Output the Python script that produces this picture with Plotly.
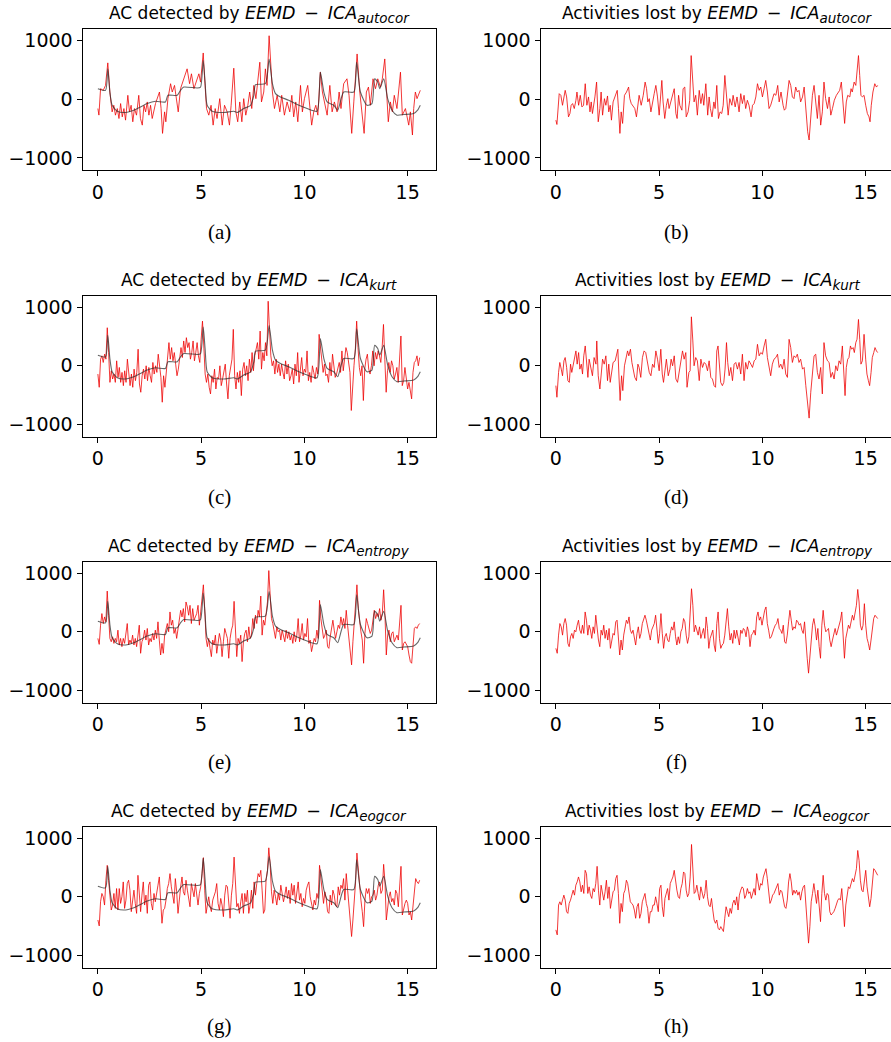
import numpy as np
import plotly.graph_objects as go

# ---------------- data (time in s, amplitude) ----------------
ta = [0,0.05,0.13,0.26,0.37,0.48,0.58,0.69,0.77,0.85,0.94,1.02,1.10,1.18,1.26,1.34,1.45,1.53,1.61,1.69,
      1.77,1.87,1.98,2.06,2.15,2.23,2.31,2.39,2.47,2.55,2.63,2.79,2.98,3.06,3.13,3.23,3.29,3.39,3.52,3.60,
      3.71,3.89,4.00,4.16,4.32,4.44,4.53,4.65,4.89,4.97,5.10,5.16,5.26,5.37,5.48,5.58,5.68,5.77,5.90,6.02,
      6.13,6.26,6.37,6.45,6.58,6.68,6.77,6.87,6.97,7.06,7.16,7.26,7.35,7.45,7.55,7.65,7.74,7.84,7.92,8.03,
      8.11,8.19,8.29,8.35,8.45,8.55,8.68,8.81,8.90,9.03,9.16,9.29,9.39,9.48,9.58,9.68,9.81,9.90,10.0,10.16,
      10.26,10.35,10.45,10.55,10.65,10.77,10.87,10.97,11.10,11.23,11.34,11.45,11.58,11.68,11.77,11.90,12.06,12.16,12.29,12.39,
      12.55,12.68,12.77,12.89,13.0,13.1,13.19,13.32,13.44,13.55,13.68,13.77,13.89,13.97,14.06,14.16,14.26,14.35,14.48,14.65,
      14.74,14.89,15.05,15.13,15.23,15.29,15.37,15.45,15.61]
va = [-158,-270,181,153,237,622,124,-215,-102,-271,-158,-328,-73,-300,-158,-356,68,-215,-102,-384,
      -158,-271,68,-328,-441,-102,-215,-45,-271,-102,-328,-73,124,-158,-582,-215,-384,11,266,124,
      237,-215,181,350,520,266,435,181,435,294,791,407,-158,-271,-102,-441,-158,-328,11,-441,
      -102,-215,-441,-102,531,-215,-384,-45,-384,11,-271,-102,124,-158,237,11,266,633,-45,124,
      520,237,1085,633,124,-158,68,-215,68,-271,-45,-215,68,-300,-45,-384,237,-215,11,237,
      -158,-441,-215,-102,-271,463,124,-45,-271,237,-215,-45,-215,124,-158,266,350,68,-582,-45,
      774,124,-158,-582,124,209,-102,350,181,350,209,350,689,124,-384,-45,-215,68,-158,463,
      -271,-158,-441,-215,-610,-158,124,11,153]

t_ref = [0,0.37,0.48,0.58,0.69,0.94,1.26,1.74,2.06,2.39,2.79,3.27,3.39,3.84,4.0,4.16,4.81,4.97,5.10,5.19,
         5.29,5.53,6.10,6.58,6.74,7.06,7.39,7.55,7.63,8.11,8.29,8.45,8.60,8.84,9.24,9.65,10.13,10.61,10.77,10.94,
         11.10,11.42,11.61,11.90,12.39,12.53,12.71,13.03,13.27,13.40,13.55,13.65,13.84,14.03,14.24,14.48,14.81,15.29,15.48,15.61]
v_ref = [181,153,520,124,-102,-203,-226,-186,-130,-73,-34,-45,68,68,153,209,192,209,661,294,
         -102,-203,-226,-203,-226,-158,-102,68,249,266,689,266,96,40,-17,-90,-158,-203,463,124,
         -45,-102,-186,124,124,633,124,-102,-73,350,294,181,350,11,-186,-271,-260,-243,-186,-102]

tb = [0,0.05,0.16,0.24,0.32,0.45,0.52,0.61,0.68,0.74,0.81,0.89,0.97,1.02,1.10,1.18,1.26,1.34,1.42,1.50,
      1.58,1.65,1.71,1.77,1.89,1.97,2.05,2.13,2.19,2.26,2.35,2.42,2.50,2.56,2.63,2.69,2.77,2.90,2.97,3.03,
      3.10,3.16,3.23,3.32,3.42,3.52,3.58,3.65,3.71,3.82,3.90,3.97,4.03,4.13,4.23,4.32,4.39,4.45,4.52,4.60,
      4.68,4.76,4.84,4.92,5.0,5.08,5.13,5.19,5.27,5.35,5.42,5.48,5.58,5.65,5.73,5.81,5.87,5.94,6.0,6.10,
      6.16,6.24,6.31,6.40,6.48,6.55,6.61,6.69,6.77,6.85,6.94,7.02,7.10,7.16,7.26,7.35,7.42,7.48,7.56,7.65,
      7.71,7.79,7.87,7.95,8.03,8.10,8.18,8.26,8.34,8.42,8.52,8.58,8.68,8.77,8.87,8.95,9.03,9.11,9.19,9.27,
      9.35,9.45,9.52,9.60,9.68,9.76,9.84,9.92,10.0,10.08,10.16,10.24,10.32,10.40,10.48,10.56,10.65,10.74,10.81,10.90,
      11.0,11.06,11.13,11.21,11.29,11.37,11.45,11.53,11.61,11.69,11.77,11.85,11.94,12.02,12.10,12.19,12.26,12.34,12.42,12.5,
      12.58,12.66,12.74,12.82,12.90,12.98,13.06,13.15,13.23,13.31,13.39,13.48,13.58,13.68,13.74,13.82,13.90,13.98,14.06,14.13,
      14.23,14.29,14.35,14.44,14.52,14.58,14.65,14.71,14.77,14.84,14.92,15.0,15.08,15.16,15.21,15.27,15.35,15.44,15.52,15.58]
vb = [-356,-430,96,68,-102,153,40,-300,-243,-102,-73,-158,-17,124,-102,68,-130,-102,266,-102,
      40,-215,-45,-243,40,294,-384,-158,124,-271,11,-102,57,-215,-102,-356,-45,68,153,-158,
      -582,-215,-412,68,124,209,11,-73,-102,-158,-300,-45,68,-102,68,294,181,-45,11,-215,
      -17,96,237,40,-271,124,322,-45,-328,-102,11,-158,-17,40,181,-243,-328,68,-102,-186,
      181,209,-300,-215,-17,746,407,-45,68,-271,153,-73,96,-102,266,-271,40,-158,-300,-45,
      -158,237,-328,-215,-243,-102,407,68,-271,11,-102,68,-130,40,-215,96,-73,68,-158,-17,
      -102,-300,-102,-73,40,266,153,209,40,181,322,124,-158,-102,11,96,68,237,-45,124,
      -102,-186,-158,40,322,237,40,11,209,124,153,-45,40,209,-158,-554,-695,-328,68,237,
      -45,-328,68,-441,-215,294,11,-158,40,-271,-158,-17,68,124,153,294,-158,-412,-45,68,
      40,181,124,294,237,463,746,407,68,40,68,-102,-243,-300,-384,-102,124,266,209,237]

vc = [-141,-367,113,170,57,198,113,650,226,-283,-85,-226,-141,-283,85,-198,-28,-283,-113,-339,
      -85,-283,113,-170,-339,-141,-367,-57,-254,-113,283,-311,-452,-170,-57,-226,0,-254,-28,-170,
      -283,57,-141,0,-113,198,-57,-198,-622,-170,-367,-57,226,396,113,311,85,226,28,-170,
      -57,141,311,141,424,226,480,311,396,113,226,424,85,226,396,170,57,452,763,339,
      -141,-283,-141,-367,-480,-170,-283,-57,-396,-198,-226,0,-339,-226,-113,28,-311,-565,-170,-28,
      113,622,-170,-396,-113,-283,-85,-509,-57,57,-170,0,-254,113,-113,226,-85,170,311,396,
      113,593,-57,226,85,396,170,1102,622,170,0,85,-141,113,-113,28,-170,28,-113,-226,
      85,-141,28,-254,-170,-57,-311,28,-170,226,-283,-28,141,-170,-57,-113,254,-254,-113,-283,
      0,-113,-226,-28,-141,537,283,113,-113,28,-170,-141,-283,57,-170,198,0,-198,-141,-28,
      57,-113,254,-85,113,311,226,57,-113,-763,-283,0,283,763,311,-28,-170,0,-593,-57,
      113,198,-57,-141,0,254,0,226,113,254,170,57,311,706,113,-452,-85,57,-113,85,
      0,-226,-141,-28,-283,113,509,-339,-254,-28,-254,-396,-283,-452,-565,-113,57,85,170,0,141]

td = [0,0.05,0.13,0.19,0.26,0.32,0.39,0.45,0.52,0.58,0.65,0.71,0.77,0.84,0.90,0.97,1.03,1.10,1.16,1.23,
      1.29,1.35,1.42,1.48,1.55,1.61,1.69,1.77,1.85,1.94,1.98,2.05,2.13,2.19,2.26,2.34,2.42,2.50,2.56,2.63,
      2.71,2.77,2.87,2.94,3.0,3.06,3.11,3.18,3.24,3.32,3.39,3.47,3.53,3.61,3.68,3.74,3.82,3.90,3.97,4.03,
      4.11,4.19,4.27,4.35,4.44,4.52,4.60,4.68,4.76,4.84,4.92,5.0,5.08,5.15,5.21,5.29,5.35,5.44,5.52,5.58,
      5.65,5.73,5.81,5.89,5.97,6.05,6.13,6.21,6.29,6.35,6.44,6.50,6.56,6.63,6.69,6.77,6.85,6.94,7.02,7.10,
      7.18,7.26,7.34,7.42,7.50,7.58,7.66,7.73,7.79,7.85,7.92,7.98,8.06,8.13,8.19,8.26,8.32,8.39,8.47,8.55,
      8.63,8.71,8.79,8.87,8.95,9.03,9.11,9.19,9.27,9.35,9.44,9.52,9.60,9.68,9.76,9.84,9.92,10.0,10.08,10.16,
      10.24,10.32,10.40,10.48,10.56,10.65,10.73,10.81,10.89,10.97,11.05,11.13,11.21,11.29,11.37,11.45,11.53,11.61,11.69,11.77,
      11.85,11.94,12.02,12.10,12.18,12.26,12.34,12.42,12.50,12.58,12.66,12.74,12.82,12.90,12.98,13.06,13.15,13.23,13.31,13.39,
      13.47,13.55,13.63,13.71,13.79,13.87,13.95,14.0,14.06,14.13,14.19,14.26,14.32,14.39,14.45,14.52,14.58,14.65,14.71,14.77,
      14.84,14.92,15.0,15.06,15.13,15.19,15.26,15.32,15.39,15.45,15.52,15.58]
vd = [-339,-537,-113,57,-57,-170,85,141,-28,-254,-283,28,-113,0,85,254,28,226,-57,28,
      -141,170,339,0,-198,113,-28,-170,141,28,424,-170,-396,-113,113,28,170,-254,28,-283,
      -113,57,85,170,283,-226,-593,-170,-424,0,113,254,170,283,57,-85,-198,-254,28,-28,
      -198,141,254,226,0,-113,-170,28,-28,254,113,-85,283,-141,-283,0,113,-170,-57,113,
      0,170,-226,-283,-85,28,254,113,226,-367,-113,-85,836,424,0,141,85,-254,113,-28,
      57,28,-85,85,-198,-226,-339,-367,254,339,0,-283,-339,-283,-57,396,57,-170,-28,-254,
      28,57,-57,57,-141,198,-254,57,-57,85,28,-28,85,113,367,170,226,198,339,452,
      141,-57,-170,28,113,141,198,-28,28,-57,113,-141,-198,452,311,57,170,141,198,57,
      113,-57,-28,-339,-622,-893,-452,-113,170,198,-113,-226,-28,-480,396,170,85,57,-198,-113,
      -226,0,-85,85,28,339,-339,-509,-28,113,141,339,283,311,226,396,452,791,452,28,
      85,537,113,-141,-254,-339,-113,141,226,311,254,226]

ve = [-113,-215,113,311,141,254,170,695,283,-113,-170,-85,-198,-113,-170,28,-226,-113,-254,-113,
      -198,28,141,-226,-141,-198,-57,-226,-113,-254,-28,113,-367,-170,-113,28,-141,57,-226,-113,
      -170,-28,-141,28,-113,170,-141,-396,-198,-367,-57,57,141,0,339,113,198,-28,57,-113,
      28,198,367,254,396,170,509,424,283,452,141,396,198,254,311,452,113,339,565,802,
      396,-113,-254,-113,-283,-424,-141,-226,-57,-367,-198,-28,-141,-424,-170,57,-28,-113,-452,-113,
      28,113,520,-57,-424,-113,-198,-57,-509,-170,-28,28,-170,85,-113,-57,226,57,283,141,
      367,254,610,-57,198,113,339,509,1045,622,226,141,28,-113,85,0,28,-141,28,-85,
      -170,28,-113,0,-141,-57,-198,0,-170,-57,226,-170,-57,141,-141,-28,-85,226,-198,-141,
      -339,-226,-113,-170,28,-113,537,226,28,-113,-57,28,-254,-283,-85,85,198,28,-113,0,
      113,57,254,113,226,57,367,113,-113,-283,-565,-170,170,396,802,396,170,0,-141,-537,
      -28,226,141,57,-28,28,170,367,226,311,254,396,198,311,718,283,-396,-57,28,-170,
      -28,0,-170,-113,-57,-141,113,452,-311,-198,-170,-226,-254,-396,-509,-537,-170,57,85,57,113,141]

vf = [-283,-367,-57,141,85,-57,141,226,113,-198,-254,-85,-28,-113,28,0,113,198,28,-28,
      113,-28,339,198,-57,113,28,-113,85,-28,283,57,-141,-254,28,-57,113,-113,28,-141,
      57,-283,-113,-28,-57,170,198,-85,-396,-141,-311,-57,113,198,141,254,28,-28,28,-141,
      -226,-28,85,-113,-28,141,226,283,198,85,-28,-141,28,85,141,283,85,-198,-28,311,
      -28,-283,-85,-28,-141,-170,-28,85,28,170,-85,-226,-85,-198,0,57,226,170,-57,-198,
      -85,283,735,452,0,113,28,-57,85,-113,-28,57,-113,254,57,-283,-113,-28,28,-226,
      -339,141,339,-113,-283,-226,-198,-57,198,396,85,-141,-28,-198,28,-113,28,-85,-226,28,
      -28,57,28,-85,85,0,-254,-57,-28,28,-57,254,339,198,254,113,283,367,424,141,
      28,-113,-85,0,57,113,141,226,57,28,-28,113,-170,-198,-57,170,367,198,28,85,
      57,198,170,113,141,28,-28,170,-226,-452,-706,-452,-113,113,226,85,-141,57,-254,-452,
      113,367,113,0,28,57,-141,-254,-141,-28,57,-57,28,141,198,339,-170,-452,-113,28,
      113,57,198,283,198,311,452,723,509,113,28,113,480,113,-113,-198,-311,-141,113,226,283,254,226]

vg = [-396,-497,-85,57,0,-141,283,537,283,-57,-226,-141,57,-198,141,-226,141,-113,0,254,
      -198,-57,226,283,113,-254,-85,113,-113,-283,367,-57,-254,28,254,-141,28,-283,198,254,
      -113,-226,57,-85,113,198,339,0,-452,-226,-198,-57,141,226,396,170,0,-113,311,85,
      -283,28,170,339,85,28,283,113,-57,-170,226,113,0,226,28,-141,57,170,396,667,
      113,-283,-141,0,-170,-254,-57,0,85,226,-113,-226,-28,-141,-339,28,198,170,-170,-367,
      28,226,678,170,-170,-113,-283,-85,57,-283,57,-85,113,-283,-141,113,-198,254,28,226,
      396,339,452,113,-283,-226,311,452,836,565,85,-113,113,0,-141,57,-57,198,28,-85,
      28,170,-28,113,-113,226,28,198,-113,113,254,-57,57,-170,-28,-113,113,198,254,0,
      -113,-226,-57,-141,57,-28,537,339,57,-113,85,-28,-254,-283,28,-141,113,28,-141,-170,
      170,28,198,141,311,-57,396,113,-113,-339,-678,-396,-85,254,746,452,141,-57,-254,-509,
      -57,141,57,141,-113,0,28,113,-57,28,198,254,57,113,554,254,-396,-141,0,85,
      -85,-28,-141,113,57,-170,141,520,-311,-198,-113,-57,-113,-311,-254,-396,-113,113,311,254,226,283]

vh = [-565,-650,-141,-85,-141,-28,28,-57,-254,-283,-113,-57,57,113,28,198,254,339,254,85,
      198,57,452,396,57,170,28,-28,141,85,226,520,113,-141,198,28,-57,85,283,-28,
      170,-198,-28,85,113,311,367,57,-452,-113,-254,57,113,283,226,85,-85,-113,-141,-226,
      -367,-170,-113,-367,-283,-85,-28,57,-113,-198,-452,-254,-254,-141,-141,0,-113,-254,141,198,
      -170,-339,-28,85,141,-57,226,283,339,452,254,113,0,-28,141,226,424,396,113,0,
      57,339,893,565,57,85,198,57,-57,170,85,-28,57,283,0,-141,-170,-28,-226,-396,
      -452,-396,-537,-565,-509,-565,-593,-367,-170,-254,-339,-198,-283,-113,-57,-141,0,-226,28,113,
      170,141,-28,28,141,57,85,-28,57,141,28,396,254,113,226,198,339,396,480,311,
      141,-113,-57,28,57,113,141,226,28,113,85,-28,-170,-198,-57,254,396,254,28,113,
      57,113,28,85,-57,85,170,198,-170,-396,-791,-509,-85,57,226,57,-113,113,-226,-424,
      57,367,57,-57,57,28,-254,-311,-283,-254,-198,-113,-57,-28,-57,141,-226,-509,-141,57,
      170,141,226,311,254,367,480,791,622,283,113,85,311,452,170,-57,-170,-28,283,480,452,396,367]

T_END = 15.58
tc = np.linspace(0, T_END, len(vc))
te = np.linspace(0, T_END, len(ve))
tf = np.linspace(0, T_END, len(vf))
tg = np.linspace(0, T_END, len(vg))
th = np.linspace(0, T_END, len(vh))

methods = ["autocor", "kurt", "entropy", "eogcor"]
captions = ["(a)", "(b)", "(c)", "(d)", "(e)", "(f)", "(g)", "(h)"]
detected = [(ta, va), (tc, vc), (te, ve), (tg, vg)]
lost = [(tb, vb), (td, vd), (tf, vf), (th, vh)]

# ---------------- layout geometry ----------------
W, H = 891, 1042
row_top = [29.0, 295.5, 561.5, 826.5]
row_bot = [170.0, 436.5, 702.5, 967.5]
col_l = [82.5, 540.5]
col_r = [436.0, 894.0]
XR_L = [-0.745, 16.37]
YR = [-1207, 1200]
pxu = (col_r[0] - col_l[0]) / (XR_L[1] - XR_L[0])

RED = "rgba(238,0,0,0.78)"
GRAY = "rgba(45,45,45,0.72)"
FONT = "DejaVu Sans"
ENSP = "\u2002"


def math_part(method):
    return ('<span style="font-size:17.5px"><i>EEMD</i>' + ENSP + "−" + ENSP +
            '<i>ICA</i></span><sub><span style="font-size:13.5px"><i>' + method +
            "</i></span></sub>")


fig = go.Figure()
layout = dict(width=W, height=H, margin=dict(l=0, r=0, t=0, b=0),
              paper_bgcolor="white", plot_bgcolor="white", showlegend=False)
annotations = []

for r in range(4):
    for c in range(2):
        i = r * 2 + c
        ax = i + 1
        xn = "x" if ax == 1 else f"x{ax}"
        yn = "y" if ax == 1 else f"y{ax}"
        if c == 0:
            tt, vv = detected[r]
            fig.add_trace(go.Scatter(x=tt, y=vv, mode="lines", xaxis=xn, yaxis=yn,
                                     line=dict(color=RED, width=1.0), hoverinfo="skip"))
            fig.add_trace(go.Scatter(x=t_ref, y=v_ref, mode="lines", xaxis=xn, yaxis=yn,
                                     line=dict(color=GRAY, width=1.1, shape="spline", smoothing=0.6),
                                     hoverinfo="skip"))
            xr = XR_L
            dom = [col_l[0] / W, col_r[0] / W]
            title = "AC detected by " + math_part(methods[r])
        else:
            tt, vv = lost[r]
            fig.add_trace(go.Scatter(x=tt, y=vv, mode="lines", xaxis=xn, yaxis=yn,
                                     line=dict(color=RED, width=1.0), hoverinfo="skip"))
            x0 = XR_L[0]
            xr = [x0, x0 + (W - col_l[1]) / pxu]
            dom = [col_l[1] / W, 1.0]
            title = "Activities lost by " + math_part(methods[r])

        ydom = [1 - row_bot[r] / H, 1 - row_top[r] / H]
        xkey = "xaxis" if ax == 1 else f"xaxis{ax}"
        ykey = "yaxis" if ax == 1 else f"yaxis{ax}"
        layout[xkey] = dict(domain=dom, range=xr, anchor=yn, tickvals=[0, 5, 10, 15],
                            ticks="outside", ticklen=5, tickwidth=1, tickcolor="black",
                            showline=True, linecolor="black", linewidth=1, mirror=True,
                            showgrid=False, zeroline=False,
                            tickfont=dict(family=FONT, size=19, color="black"))
        layout[ykey] = dict(domain=ydom, range=YR, anchor=xn, tickvals=[-1000, 0, 1000],
                            ticks="outside", ticklen=5, tickwidth=1, tickcolor="black",
                            showline=True, linecolor="black", linewidth=1, mirror=(c == 0),
                            showgrid=False, zeroline=False,
                            tickfont=dict(family=FONT, size=19, color="black"))
        xc = (col_l[c] + col_r[c]) / 2
        annotations.append(dict(text=title, x=xc / W, y=1 - (row_top[r] - 14.5) / H,
                                xref="paper", yref="paper", xanchor="center", yanchor="middle",
                                showarrow=False, font=dict(family=FONT, size=17, color="black")))
        cap_x = [219, 676][c]
        cap_y = [232, 497, 762, 1026][r]
        annotations.append(dict(text=captions[i], x=cap_x / W, y=1 - cap_y / H,
                                xref="paper", yref="paper", xanchor="center", yanchor="middle",
                                showarrow=False, font=dict(family="Liberation Serif", size=21, color="black")))

layout["annotations"] = annotations
fig.update_layout(**layout)
fig.write_html("out.html")
